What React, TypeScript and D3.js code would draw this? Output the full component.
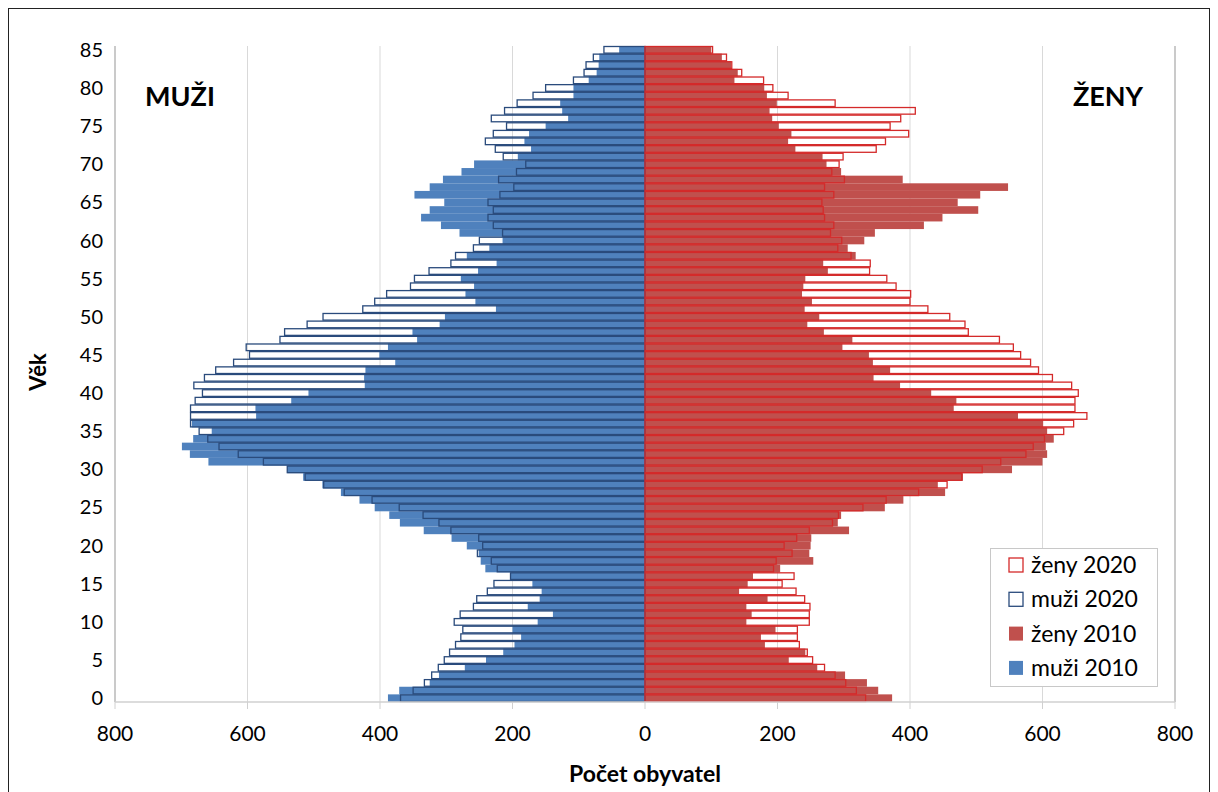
import React, { useEffect } from 'react';
import * as d3 from 'd3';

// age categories 0..85
const ages: number[] = d3.range(0, 86);

// values per age, index = age
const muzi2010 = [388, 371, 325, 311, 272, 240, 214, 197, 187, 200, 162, 139, 177, 159, 156, 170, 203, 241, 248, 251, 269, 292, 334, 370, 386, 408, 431, 459, 487, 516, 540, 659, 687, 699, 682, 654, 684, 587, 588, 534, 508, 423, 424, 422, 377, 401, 388, 344, 351, 310, 302, 225, 256, 271, 258, 278, 252, 224, 269, 235, 215, 280, 308, 338, 325, 303, 348, 325, 305, 277, 258, 192, 172, 182, 175, 150, 116, 125, 128, 108, 108, 85, 73, 70, 69, 39];
const muzi2020 = [369, 350, 333, 322, 312, 303, 295, 286, 278, 275, 288, 279, 259, 254, 238, 228, 203, 223, 232, 253, 245, 251, 293, 311, 335, 371, 412, 454, 485, 513, 540, 576, 614, 643, 660, 673, 686, 686, 686, 679, 668, 681, 665, 648, 621, 597, 602, 551, 544, 510, 486, 426, 408, 390, 354, 348, 326, 293, 286, 259, 250, 215, 229, 237, 229, 237, 219, 198, 221, 194, 180, 214, 226, 241, 229, 209, 232, 212, 193, 169, 150, 108, 92, 89, 78, 62];
const zeny2010 = [373, 352, 335, 302, 260, 217, 242, 181, 175, 197, 153, 161, 153, 185, 142, 155, 163, 204, 254, 248, 250, 251, 308, 291, 296, 362, 390, 453, 442, 480, 554, 600, 607, 605, 617, 607, 601, 563, 466, 470, 432, 385, 345, 370, 344, 338, 298, 313, 270, 245, 263, 241, 252, 237, 239, 242, 276, 269, 318, 306, 331, 347, 421, 449, 503, 472, 506, 548, 389, 296, 274, 268, 227, 216, 221, 202, 192, 188, 199, 184, 180, 135, 140, 130, 116, 100];
const zeny2020 = [333, 319, 303, 287, 271, 253, 245, 233, 230, 230, 248, 248, 249, 241, 228, 207, 225, 194, 198, 222, 210, 229, 248, 283, 292, 329, 364, 413, 456, 478, 509, 537, 575, 586, 603, 632, 647, 667, 649, 649, 654, 644, 615, 594, 582, 567, 556, 535, 488, 483, 460, 427, 400, 401, 379, 365, 339, 340, 311, 291, 297, 280, 285, 271, 269, 267, 285, 271, 301, 282, 293, 299, 349, 363, 398, 370, 386, 408, 287, 216, 193, 179, 146, 131, 123, 102];

const xTicks = [-800, -600, -400, -200, 0, 200, 400, 600, 800];
const yTickLabels = ages.filter(a => a % 5 === 0);

const legendItems = [
  { label: 'ženy 2020', fill: 'none', stroke: '#D42A2A' },
  { label: 'muži 2020', fill: 'none', stroke: '#2A4B7C' },
  { label: 'ženy 2010', fill: '#C0504D', stroke: 'none' },
  { label: 'muži 2010', fill: '#4F81BD', stroke: 'none' },
];

const W = 1218;
const H = 792;
const FONT = 'Lato, "Open Sans", sans-serif';

const App: React.FC = () => {
  useEffect(() => {
    document.body.style.margin = '0';
  }, []);

  const x = d3.scaleLinear().domain([-800, 800]).range([115, 1175]);
  const y = d3.scaleBand<number>()
    .domain([...ages].reverse())
    .range([46, 702])
    .paddingInner(0)
    .paddingOuter(0);
  const bh = y.bandwidth();

  const barsFilled = (vals: number[], sign: number, color: string) =>
    ages.map(a => {
      const v = vals[a];
      const x0 = sign < 0 ? x(-v) : x(0);
      const w = Math.abs(x(v) - x(0));
      return <rect key={a} x={x0} y={y(a)} width={w} height={bh} fill={color} />;
    });

  const barsOutline = (vals: number[], sign: number, color: string) =>
    ages.map(a => {
      const v = vals[a];
      const x0 = sign < 0 ? x(-v) : x(0);
      const w = Math.abs(x(v) - x(0));
      return (
        <rect key={a} x={x0} y={(y(a) ?? 0) + 0.5} width={w} height={bh - 1}
          fill="none" stroke={color} strokeWidth={1.3} />
      );
    });

  return (
    <svg width={W} height={H} style={{ display: 'block', background: '#fff' }} fontFamily={FONT}>
      {/* chart border */}
      <rect x={8.5} y={8.5} width={1201} height={800} fill="none" stroke="#222" strokeWidth={1} />

      {/* gridlines */}
      {xTicks.map(t => (
        <line key={t} x1={x(t)} x2={x(t)} y1={46} y2={702} stroke="#D9D9D9" strokeWidth={1} />
      ))}
      <line x1={x(-800)} x2={x(-800)} y1={46} y2={702} stroke="#BFBFBF" strokeWidth={1.5} />
      <line x1={x(800)} x2={x(800)} y1={46} y2={702} stroke="#BFBFBF" strokeWidth={1.5} />

      {/* 2010 filled bars */}
      <g>{barsFilled(muzi2010, -1, '#4F81BD')}</g>
      <g>{barsFilled(zeny2010, 1, '#C0504D')}</g>

      {/* 2020 outline bars */}
      <g>{barsOutline(muzi2020, -1, '#2A4B7C')}</g>
      <g>{barsOutline(zeny2020, 1, '#D42A2A')}</g>

      {/* x axis */}
      <line x1={x(-800)} x2={x(800)} y1={702} y2={702} stroke="#D0D0D0" strokeWidth={1.5} />
      {xTicks.map(t => (
        <g key={t}>
          <line x1={x(t)} x2={x(t)} y1={702} y2={709} stroke="#D0D0D0" strokeWidth={1} />
          <text x={x(t)} y={741} textAnchor="middle" fontSize={21} fill="#000">{Math.abs(t)}</text>
        </g>
      ))}

      {/* y axis labels */}
      {yTickLabels.map(a => (
        <text key={a} x={103} y={(y(a) ?? 0) + bh / 2 + 7} textAnchor="end" fontSize={20} fill="#000">{a}</text>
      ))}

      {/* titles */}
      <text x={645} y={782} textAnchor="middle" fontSize={23} fontWeight="bold" fill="#000">Počet obyvatel</text>
      <text transform="translate(46,372) rotate(-90)" textAnchor="middle" fontSize={22} fontWeight="bold" fill="#000">Věk</text>

      <text x={180} y={106} textAnchor="middle" fontSize={27} fontWeight="bold" fill="#000">MUŽI</text>
      <text x={1108} y={106} textAnchor="middle" fontSize={27} fontWeight="bold" fill="#000">ŽENY</text>

      {/* legend */}
      <g>
        <rect x={990.5} y={548.5} width={167} height={138} fill="#fff" stroke="#C8C8C8" strokeWidth={1} />
        {legendItems.map((d, i) => {
          const cy = 565 + i * 34.3;
          return (
            <g key={d.label}>
              <rect x={1009} y={cy - 7} width={14} height={14}
                fill={d.fill === 'none' ? '#fff' : d.fill}
                stroke={d.stroke === 'none' ? 'none' : d.stroke} strokeWidth={1.3} />
              <text x={1031} y={cy + 8} fontSize={23} fill="#000">{d.label}</text>
            </g>
          );
        })}
      </g>
    </svg>
  );
};

export default App;
